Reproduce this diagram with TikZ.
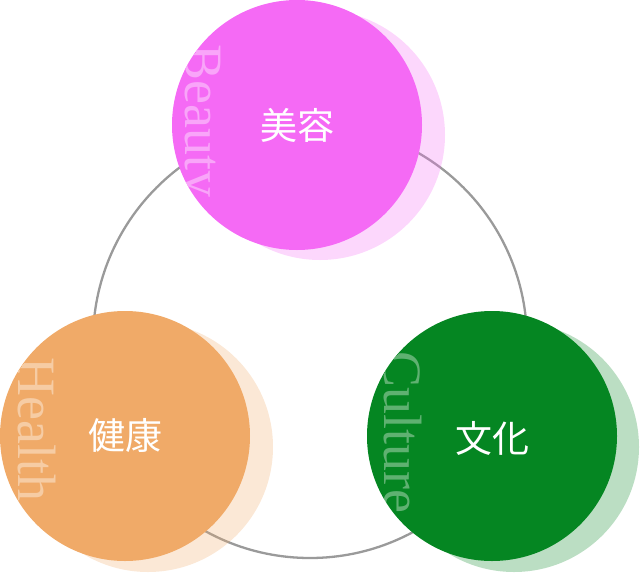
\documentclass[tikz,border=0pt]{standalone}
\usepackage{fontspec}
\setmainfont{Liberation Serif}
\newfontfamily\cjk{Noto Sans CJK JP}
\definecolor{pinkc}{HTML}{F56AF5}
\definecolor{orangec}{HTML}{F0AA68}
\definecolor{greenc}{HTML}{058622}
\definecolor{ringgray}{HTML}{9A9A9A}
\begin{document}
\begin{tikzpicture}[x=1pt,y=-1pt,
  ring/.style={draw=ringgray,line width=2.3pt},
  halo/.style={circle,inner sep=0pt,minimum size=250pt,fill=#1,fill opacity=0.27},
  disc/.style={circle,inner sep=0pt,minimum size=250pt,fill=#1},
  word/.style={text=white,text opacity=#1,font=\fontsize{54}{54}\selectfont,rotate=-90,anchor=base west,inner sep=0pt},
  kanji/.style={text=white,font=\cjk\fontsize{37}{37}\selectfont,inner sep=0pt}]
\useasboundingbox (0,0) rectangle (640,573);
% ring
\node (ringc) [circle,inner sep=0pt,minimum size=434pt,ring] at (310,341) {};
% shadows
\node (bshadow) [halo=pinkc] at (320,135) {};
\node (hshadow) [halo=orangec] at (148,447) {};
\node (cshadow) [halo=greenc] at (514,447) {};
% discs
\node (beauty) [disc=pinkc] at (297,125) {};
\node (health) [disc=orangec] at (125,436) {};
\node (culture) [disc=greenc] at (492,436) {};
% rotated words clipped to discs
\begin{scope}
  \clip (297,125) circle[radius=125];
  \node (bword) [word=0.4] at (185,44) {Beauty};
\end{scope}
\begin{scope}
  \clip (125,436) circle[radius=125];
  \node (hword) [word=0.4] at (18,357) {Health};
\end{scope}
\begin{scope}
  \clip (492,436) circle[radius=125];
  \node (cword) [word=0.36] at (384,351) {Culture};
\end{scope}
% labels
\node (bk) [kanji] at (beauty.center) {美容};
\node (hk) [kanji] at (health.center) {健康};
\node (ck) [kanji] at ([yshift=-2pt]culture.center) {文化};
\end{tikzpicture}
\end{document}
